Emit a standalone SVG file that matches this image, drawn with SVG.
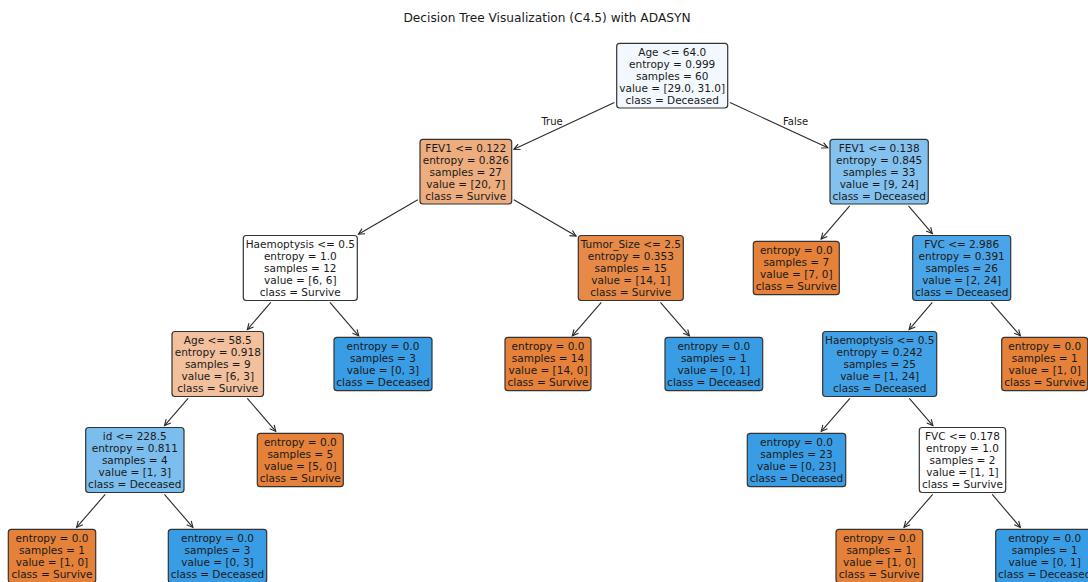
<svg xmlns="http://www.w3.org/2000/svg" width="1088" height="582" viewBox="0 0 1088 582">
<style>
text{font-family:"DejaVu Sans","Liberation Sans",sans-serif;fill:#1a1a1a}
.t{font-size:10.5px;text-anchor:middle}
.title{font-size:12.2px;text-anchor:middle}
.lab{font-size:10px;text-anchor:middle}
.box{stroke:#333;stroke-width:1.2}
.edge{stroke:#2a2a2a;stroke-width:1.1;fill:none;marker-end:url(#ah)}
.or{fill:#e58139}.bl{fill:#399de5}
</style>
<defs>
<marker id="ah" viewBox="-8 -5 10 10" markerWidth="10" markerHeight="10" refX="0" refY="0" orient="auto" markerUnits="userSpaceOnUse">
<path d="M-6,-3 L0,0 L-6,3" fill="none" stroke="#2a2a2a" stroke-width="1.1"/>
</marker>
</defs>
<rect width="1088" height="582" fill="#ffffff"/>
<text class="title" x="547" y="22">Decision Tree Visualization (C4.5) with ADASYN</text>
<g id="connectors">
<line class="edge" x1="614.4" y1="102.6" x2="513.9" y2="149.3"/>
<line class="edge" x1="730" y1="102.5" x2="827.8" y2="147.8"/>
<line class="edge" x1="417.8" y1="199.7" x2="358.4" y2="234.2"/>
<line class="edge" x1="513.8" y1="199.8" x2="576.1" y2="236.1"/>
<line class="edge" x1="849.7" y1="205.9" x2="821.1" y2="239.1"/>
<line class="edge" x1="908.5" y1="205.9" x2="932.3" y2="233.6"/>
<line class="edge" x1="270.8" y1="302.4" x2="247.3" y2="329.6"/>
<line class="edge" x1="329.9" y1="302.4" x2="358.7" y2="335.8"/>
<line class="edge" x1="601.3" y1="302.4" x2="572.3" y2="335.8"/>
<line class="edge" x1="660.4" y1="302.4" x2="689.4" y2="335.8"/>
<line class="edge" x1="932.3" y1="302.4" x2="909.1" y2="329.6"/>
<line class="edge" x1="991.1" y1="302.4" x2="1020.4" y2="335.8"/>
<line class="edge" x1="188.1" y1="398.4" x2="164.5" y2="425.6"/>
<line class="edge" x1="247.3" y1="398.4" x2="275.8" y2="431.4"/>
<line class="edge" x1="849.9" y1="398.4" x2="821.2" y2="431.4"/>
<line class="edge" x1="909.3" y1="398.4" x2="932.9" y2="425.6"/>
<line class="edge" x1="105.2" y1="494.4" x2="76.6" y2="527.4"/>
<line class="edge" x1="164.4" y1="494.4" x2="192.9" y2="527.4"/>
<line class="edge" x1="932.7" y1="494.4" x2="904" y2="527.4"/>
<line class="edge" x1="992.2" y1="494.4" x2="1020.3" y2="527.4"/>
<text class="lab" x="552" y="124.5">True</text>
<text class="lab" x="795.5" y="124.5">False</text>
</g>
<g id="n0"><rect class="box" x="616.7" y="43.3" width="111" height="64.7" rx="3" fill="#f2f8fd"/>
<text class="t" x="672.2" y="55.5"><tspan x="672.2">Age &lt;= 64.0</tspan><tspan x="672.2" dy="12">entropy = 0.999</tspan><tspan x="672.2" dy="12">samples = 60</tspan><tspan x="672.2" dy="12">value = [29.0, 31.0]</tspan><tspan x="672.2" dy="12">class = Deceased</tspan></text></g>
<g id="n1"><rect class="box" x="420" y="139.3" width="91.7" height="64.7" rx="3" fill="#eead7e"/>
<text class="t" x="465.8" y="151.5"><tspan x="465.8">FEV1 &lt;= 0.122</tspan><tspan x="465.8" dy="12">entropy = 0.826</tspan><tspan x="465.8" dy="12">samples = 27</tspan><tspan x="465.8" dy="12">value = [20, 7]</tspan><tspan x="465.8" dy="12">class = Survive</tspan></text></g>
<g id="n2"><rect class="box" x="830" y="139.3" width="98.3" height="64.7" rx="3" fill="#83c2ef"/>
<text class="t" x="879.2" y="151.5"><tspan x="879.2">FEV1 &lt;= 0.138</tspan><tspan x="879.2" dy="12">entropy = 0.845</tspan><tspan x="879.2" dy="12">samples = 33</tspan><tspan x="879.2" dy="12">value = [9, 24]</tspan><tspan x="879.2" dy="12">class = Deceased</tspan></text></g>
<g id="n3"><rect class="box" x="243.3" y="235.5" width="114" height="65" rx="3" fill="#ffffff"/>
<text class="t" x="300.3" y="247.8"><tspan x="300.3">Haemoptysis &lt;= 0.5</tspan><tspan x="300.3" dy="12">entropy = 1.0</tspan><tspan x="300.3" dy="12">samples = 12</tspan><tspan x="300.3" dy="12">value = [6, 6]</tspan><tspan x="300.3" dy="12">class = Survive</tspan></text></g>
<g id="n4"><rect class="box" x="578.3" y="235.5" width="105" height="65" rx="3" fill="#e78a47"/>
<text class="t" x="630.8" y="247.8"><tspan x="630.8">Tumor_Size &lt;= 2.5</tspan><tspan x="630.8" dy="12">entropy = 0.353</tspan><tspan x="630.8" dy="12">samples = 15</tspan><tspan x="630.8" dy="12">value = [14, 1]</tspan><tspan x="630.8" dy="12">class = Survive</tspan></text></g>
<g id="n5"><rect class="box or" x="753.3" y="241.3" width="86" height="53.4" rx="3"/>
<text class="t" x="796.3" y="253.8"><tspan x="796.3">entropy = 0.0</tspan><tspan x="796.3" dy="12">samples = 7</tspan><tspan x="796.3" dy="12">value = [7, 0]</tspan><tspan x="796.3" dy="12">class = Survive</tspan></text></g>
<g id="n6"><rect class="box" x="912.7" y="235.5" width="98" height="65" rx="3" fill="#49a5e7"/>
<text class="t" x="961.7" y="247.8"><tspan x="961.7">FVC &lt;= 2.986</tspan><tspan x="961.7" dy="12">entropy = 0.391</tspan><tspan x="961.7" dy="12">samples = 26</tspan><tspan x="961.7" dy="12">value = [2, 24]</tspan><tspan x="961.7" dy="12">class = Deceased</tspan></text></g>
<g id="n7"><rect class="box" x="172" y="331.5" width="91.5" height="65" rx="3" fill="#f2c09c"/>
<text class="t" x="217.8" y="343.8"><tspan x="217.8">Age &lt;= 58.5</tspan><tspan x="217.8" dy="12">entropy = 0.918</tspan><tspan x="217.8" dy="12">samples = 9</tspan><tspan x="217.8" dy="12">value = [6, 3]</tspan><tspan x="217.8" dy="12">class = Survive</tspan></text></g>
<g id="n8"><rect class="box bl" x="334" y="337.3" width="98" height="53.4" rx="3"/>
<text class="t" x="383" y="349.8"><tspan x="383">entropy = 0.0</tspan><tspan x="383" dy="12">samples = 3</tspan><tspan x="383" dy="12">value = [0, 3]</tspan><tspan x="383" dy="12">class = Deceased</tspan></text></g>
<g id="n9"><rect class="box or" x="505" y="337.3" width="86" height="53.4" rx="3"/>
<text class="t" x="548" y="349.8"><tspan x="548">entropy = 0.0</tspan><tspan x="548" dy="12">samples = 14</tspan><tspan x="548" dy="12">value = [14, 0]</tspan><tspan x="548" dy="12">class = Survive</tspan></text></g>
<g id="n10"><rect class="box bl" x="665" y="337.3" width="97.7" height="53.4" rx="3"/>
<text class="t" x="713.8" y="349.8"><tspan x="713.8">entropy = 0.0</tspan><tspan x="713.8" dy="12">samples = 1</tspan><tspan x="713.8" dy="12">value = [0, 1]</tspan><tspan x="713.8" dy="12">class = Deceased</tspan></text></g>
<g id="n11"><rect class="box" x="822.7" y="331.5" width="114" height="65" rx="3" fill="#41a1e6"/>
<text class="t" x="879.7" y="343.8"><tspan x="879.7">Haemoptysis &lt;= 0.5</tspan><tspan x="879.7" dy="12">entropy = 0.242</tspan><tspan x="879.7" dy="12">samples = 25</tspan><tspan x="879.7" dy="12">value = [1, 24]</tspan><tspan x="879.7" dy="12">class = Deceased</tspan></text></g>
<g id="n12"><rect class="box or" x="1001.7" y="337.3" width="86" height="53.4" rx="3"/>
<text class="t" x="1044.7" y="349.8"><tspan x="1044.7">entropy = 0.0</tspan><tspan x="1044.7" dy="12">samples = 1</tspan><tspan x="1044.7" dy="12">value = [1, 0]</tspan><tspan x="1044.7" dy="12">class = Survive</tspan></text></g>
<g id="n13"><rect class="box" x="85.7" y="427.5" width="98.3" height="65" rx="3" fill="#7bbeee"/>
<text class="t" x="134.8" y="439.8"><tspan x="134.8">id &lt;= 228.5</tspan><tspan x="134.8" dy="12">entropy = 0.811</tspan><tspan x="134.8" dy="12">samples = 4</tspan><tspan x="134.8" dy="12">value = [1, 3]</tspan><tspan x="134.8" dy="12">class = Deceased</tspan></text></g>
<g id="n14"><rect class="box or" x="257.3" y="433.3" width="86" height="53.4" rx="3"/>
<text class="t" x="300.3" y="445.8"><tspan x="300.3">entropy = 0.0</tspan><tspan x="300.3" dy="12">samples = 5</tspan><tspan x="300.3" dy="12">value = [5, 0]</tspan><tspan x="300.3" dy="12">class = Survive</tspan></text></g>
<g id="n15"><rect class="box bl" x="747.3" y="433.3" width="98.4" height="53.4" rx="3"/>
<text class="t" x="796.5" y="445.8"><tspan x="796.5">entropy = 0.0</tspan><tspan x="796.5" dy="12">samples = 23</tspan><tspan x="796.5" dy="12">value = [0, 23]</tspan><tspan x="796.5" dy="12">class = Deceased</tspan></text></g>
<g id="n16"><rect class="box" x="919.3" y="427.5" width="86.4" height="65" rx="3" fill="#ffffff"/>
<text class="t" x="962.5" y="439.8"><tspan x="962.5">FVC &lt;= 0.178</tspan><tspan x="962.5" dy="12">entropy = 1.0</tspan><tspan x="962.5" dy="12">samples = 2</tspan><tspan x="962.5" dy="12">value = [1, 1]</tspan><tspan x="962.5" dy="12">class = Survive</tspan></text></g>
<g id="n17"><rect class="box or" x="8.3" y="529.3" width="87.4" height="53.4" rx="3"/>
<text class="t" x="52" y="541.8"><tspan x="52">entropy = 0.0</tspan><tspan x="52" dy="12">samples = 1</tspan><tspan x="52" dy="12">value = [1, 0]</tspan><tspan x="52" dy="12">class = Survive</tspan></text></g>
<g id="n18"><rect class="box bl" x="168.3" y="529.3" width="98.4" height="53.4" rx="3"/>
<text class="t" x="217.5" y="541.8"><tspan x="217.5">entropy = 0.0</tspan><tspan x="217.5" dy="12">samples = 3</tspan><tspan x="217.5" dy="12">value = [0, 3]</tspan><tspan x="217.5" dy="12">class = Deceased</tspan></text></g>
<g id="n19"><rect class="box or" x="836" y="529.3" width="86.7" height="53.4" rx="3"/>
<text class="t" x="879.3" y="541.8"><tspan x="879.3">entropy = 0.0</tspan><tspan x="879.3" dy="12">samples = 1</tspan><tspan x="879.3" dy="12">value = [1, 0]</tspan><tspan x="879.3" dy="12">class = Survive</tspan></text></g>
<g id="n20"><rect class="box bl" x="995.7" y="529.3" width="98" height="53.4" rx="3"/>
<text class="t" x="1044.7" y="541.8"><tspan x="1044.7">entropy = 0.0</tspan><tspan x="1044.7" dy="12">samples = 1</tspan><tspan x="1044.7" dy="12">value = [0, 1]</tspan><tspan x="1044.7" dy="12">class = Deceased</tspan></text></g>
</svg>
